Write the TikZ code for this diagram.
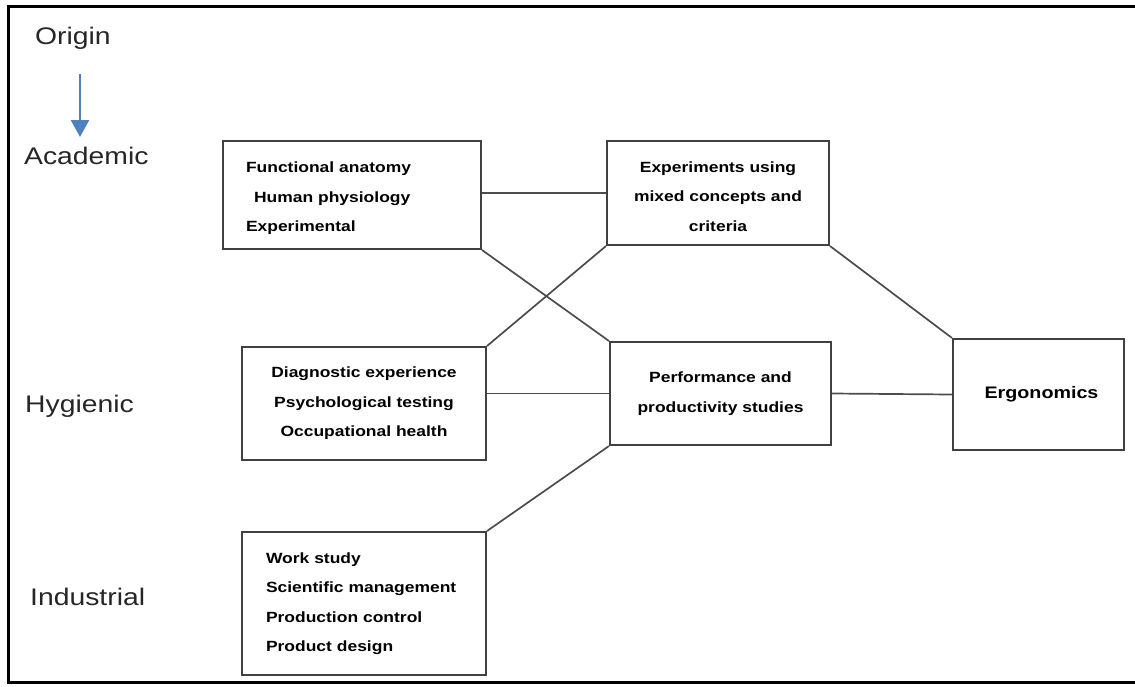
\documentclass[tikz,border=0pt]{standalone}
\usepackage{fontspec}
\setmainfont{Liberation Sans}[FakeStretch=1.18]
\usetikzlibrary{positioning,arrows.meta}
\definecolor{arrowblue}{RGB}{79,129,189}
\tikzset{
    box/.style={draw=black!75,line width=2pt,inner sep=0pt,align=center,
        font=\fontsize{14.8}{29.5}\selectfont\bfseries},
    level/.style={inner sep=0pt,anchor=base west,text=black!85,
        font=\fontsize{24}{28}\selectfont},
    link/.style={draw=black!70,line width=1.7pt},
    arr/.style={-{Triangle[length=17pt,width=18pt]},line width=2.5pt,draw=arrowblue,fill=arrowblue}
}

\begin{document}
\begin{tikzpicture}[x=1pt,y=-1pt]
    \useasboundingbox (0,0) rectangle (1135,686);
    \draw[line width=3pt] (1140,6.5) -- (8.5,6.5) -- (8.5,682.5) -- (1140,682.5);

    \node[level] (1) at (35,44) {Origin};
    \node[level] (2) at (24,164) {Academic};
    \node[level] (9) at (25,412) {Hygienic};
    \node[level] (10) at (30,605) {Industrial};
    \coordinate (a1) at (80,74);
    \coordinate (a2) at (80,137);

    \node[box,text width=212pt,align=left,minimum width=258pt,minimum height=108pt] (3) at (352,195)
        {\rule{0pt}{18pt}Functional anatomy\\\hspace*{8pt}Human physiology\\Experimental};
    \node[box,minimum width=222pt,minimum height=104pt,right=124pt of 3,yshift=2pt] (4)
        {\rule{0pt}{18pt}Experiments using\\mixed concepts and\\criteria};
    \node[box,minimum width=244pt,minimum height=113pt,below=96pt of 3,xshift=12pt] (5)
        {Diagnostic experience\\Psychological testing\\Occupational health};
    \node[box,minimum width=221pt,minimum height=103pt,below=95pt of 4,xshift=2.5pt] (6)
        {Performance and\\productivity studies};
    \node[box,minimum width=171pt,minimum height=111pt,right=120pt of 6,yshift=-1pt,
        font=\fontsize{16.7}{20}\selectfont\bfseries] (7) {\hspace*{6pt}Ergonomics};
    \node[box,text width=196pt,align=left,minimum width=244pt,minimum height=143pt,below=70pt of 5] (8)
        {Work study\\Scientific management\\Production control\\Product design};

    \draw[arr] (a1) -- (a2);
    \draw[link] (3.east |- 4.west) -- (4.west);
    \draw[link] (3.south east) -- (6.north west);
    \draw[link] (4.south west) -- (5.north east);
    \draw[link] (4.south east) -- (7.north west);
    \draw[link] (5.east |- 6.west) -- (6.west);
    \draw[link] (6.east) -- (7.west);
    \draw[link] (6.south west) -- (8.north east);

\end{tikzpicture}
\end{document}
